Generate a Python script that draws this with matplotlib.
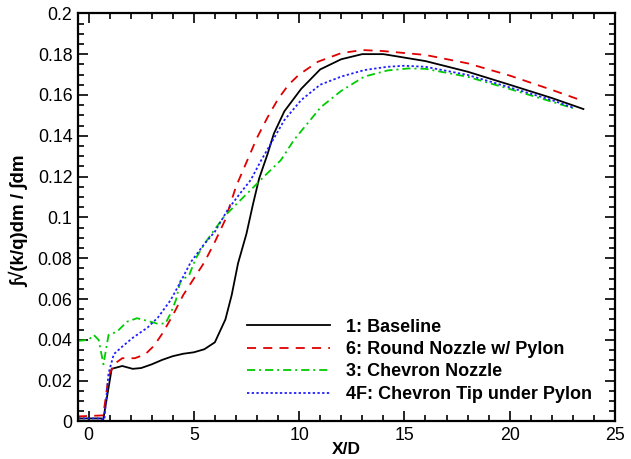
import numpy as np
import matplotlib
matplotlib.use("Agg")
import matplotlib.pyplot as plt
from matplotlib.ticker import MultipleLocator, FuncFormatter

plt.rcParams['font.family'] = ['Liberation Sans', 'DejaVu Sans']

# 1: Baseline
x_base = [-0.5, 0.6, 0.7, 1.1, 1.6, 2.1, 2.5, 3.0, 3.5, 4.0, 4.5, 5.0, 5.5, 6.0,
          6.5, 6.8, 7.1, 7.5, 7.8, 8.1, 8.5, 8.8, 9.3, 10.1, 11.0, 12.0, 13.0,
          14.0, 16.0, 18.0, 20.0, 22.0, 23.5]
y_base = [0.0015, 0.0015, 0.001, 0.0258, 0.0272, 0.0258, 0.0262, 0.028, 0.0302,
          0.032, 0.0332, 0.0339, 0.0354, 0.0388, 0.050, 0.062, 0.0775, 0.092,
          0.106, 0.119, 0.131, 0.141, 0.152, 0.163, 0.1725, 0.1775, 0.180,
          0.180, 0.1766, 0.1714, 0.165, 0.1585, 0.1531]

# 6: Round Nozzle w/ Pylon
x_round = [-0.5, 0.7, 0.95, 1.2, 1.6, 2.2, 2.7, 3.1, 3.5, 4.0, 4.5, 5.0, 5.5,
           6.0, 6.5, 7.0, 7.5, 8.0, 8.5, 9.0, 9.5, 10.0, 10.9, 12.0, 13.0, 14.0,
           16.0, 18.0, 20.0, 22.0, 23.5]
y_round = [0.0025, 0.003, 0.022, 0.028, 0.031, 0.031, 0.033, 0.037, 0.043,
           0.052, 0.062, 0.070, 0.078, 0.088, 0.099, 0.115, 0.127, 0.139, 0.149,
           0.158, 0.165, 0.170, 0.1763, 0.1805, 0.182, 0.1815, 0.1796, 0.1755,
           0.1695, 0.1625, 0.157]

# 3: Chevron Nozzle
x_chev = [-0.5, 0.0, 0.25, 0.48, 0.71, 0.95, 1.35, 1.83, 2.3, 2.94, 3.25, 3.65,
          3.9, 4.15, 4.37, 4.77, 5.1, 5.5, 5.95, 6.43, 7.06, 7.7, 8.33, 8.73,
          9.13, 9.76, 11.03, 12.0, 13.1, 14.2, 15.2, 16.0, 18.0, 20.0, 22.0, 23.0]
y_chev = [0.0395, 0.040, 0.0424, 0.040, 0.028, 0.0424, 0.044, 0.0489, 0.0506,
          0.0489, 0.048, 0.048, 0.053, 0.0595, 0.069, 0.0715, 0.080, 0.087,
          0.0935, 0.1003, 0.1069, 0.1134, 0.120, 0.124, 0.128, 0.138, 0.154,
          0.162, 0.169, 0.172, 0.173, 0.1728, 0.1689, 0.1629, 0.1567, 0.1535]

# 4F: Chevron Tip under Pylon
x_tip = [-0.5, 0.6, 0.75, 0.95, 1.2, 1.6, 2.1, 2.8, 3.3, 3.9, 4.4, 4.85, 5.5,
         6.0, 6.6, 7.2, 7.7, 8.2, 8.65, 9.3, 10.1, 11.0, 12.0, 13.1, 14.2, 15.0,
         16.0, 18.0, 20.0, 22.0, 23.0]
y_tip = [0.0015, 0.0015, 0.0008, 0.0236, 0.033, 0.0367, 0.041, 0.046, 0.051,
         0.0595, 0.069, 0.078, 0.087, 0.093, 0.1036, 0.1118, 0.1183, 0.128,
         0.136, 0.1477, 0.1575, 0.165, 0.169, 0.1722, 0.1738, 0.1743, 0.1738,
         0.1698, 0.1637, 0.1575, 0.1538]

labels = ['1: Baseline', '6: Round Nozzle w/ Pylon', '3: Chevron Nozzle',
          '4F: Chevron Tip under Pylon']

fig = plt.figure(figsize=(6.31, 4.59), dpi=100)
ax = fig.add_axes([0.1236, 0.0817, 0.851, 0.8893])

ax.plot(x_base, y_base, color='black', lw=1.3, label=labels[0])
ax.plot(x_round, y_round, color='#e00000', lw=1.3, dashes=(5, 4), label=labels[1])
ax.plot(x_chev, y_chev, color='#00cc00', lw=1.3, dashes=(4.5, 2.2, 1.1, 2.2), label=labels[2])
ax.plot(x_tip, y_tip, color='#2020ff', lw=1.3, dashes=(1.3, 1.3), label=labels[3])

ax.set_xlim(-0.5, 25)
ax.set_ylim(0, 0.2)
ax.xaxis.set_major_locator(MultipleLocator(5))
ax.xaxis.set_minor_locator(MultipleLocator(1))
ax.yaxis.set_major_locator(MultipleLocator(0.02))
ax.yaxis.set_minor_locator(MultipleLocator(0.005))
ax.yaxis.set_major_formatter(FuncFormatter(lambda v, p: '%g' % round(v, 3)))

ax.tick_params(which='both', direction='in', top=True, right=True, width=1.2,
               labelsize=12.8, pad=4)
ax.tick_params(which='major', length=7)
ax.tick_params(which='minor', length=4)
for s in ax.spines.values():
    s.set_linewidth(1.6)

ax.set_xlabel('X/D', fontsize=12.5, fontweight='bold')
ax.xaxis.set_label_coords(0.5, -0.05)
ax.set_ylabel('\u222b\u221a(k/q)dm / \u222bdm', fontsize=13.5, fontweight='bold')
ax.yaxis.set_label_coords(-0.09, 0.49)

ax.legend(loc='upper left', bbox_to_anchor=(0.315, 0.252), frameon=False,
          prop={'weight': 'bold', 'size': 13}, handlelength=4.6,
          handletextpad=0.85, labelspacing=0.3, borderpad=0, borderaxespad=0)

fig.savefig('out.png', dpi=100)
